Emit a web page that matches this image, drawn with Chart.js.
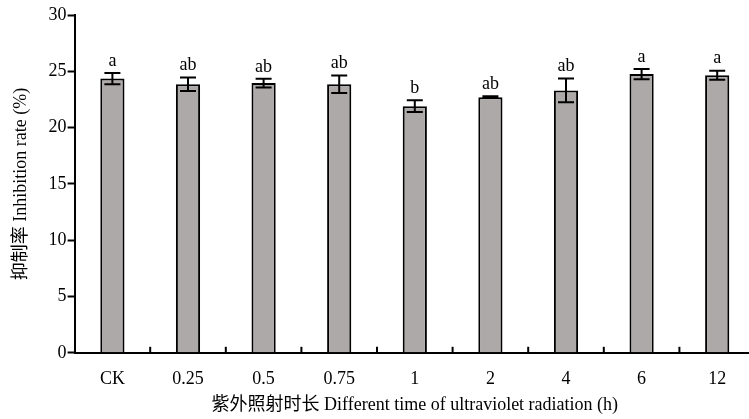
<!DOCTYPE html>
<html>
<head>
<meta charset="utf-8">
<script src="https://cdn.jsdelivr.net/npm/chart.js@4.4.0/dist/chart.umd.min.js"></script>
<style>
    html, body { margin: 0; padding: 0; background: #fff; overflow: hidden; }
    #wrap { width: 755px; height: 419px; position: relative; }
</style>
</head>
<body>
<div id="wrap"><canvas id="uvChart"></canvas></div>
<script>
const categories = ['CK', '0.25', '0.5', '0.75', '1', '2', '4', '6', '12'];
const inhibitionRate = [24.35, 23.85, 23.95, 23.85, 21.9, 22.7, 23.3, 24.75, 24.65];
const errorValues = [0.5, 0.6, 0.38, 0.78, 0.52, 0.08, 1.05, 0.45, 0.4];
const sigLetters = ['a', 'ab', 'ab', 'ab', 'b', 'ab', 'ab', 'a', 'a'];

const serif = "'Liberation Serif', 'Times New Roman', 'Noto Sans CJK SC', serif";

const errorBarPlugin = {
    id: 'errorBars',
    afterDatasetsDraw(chart) {
        const ctx = chart.ctx;
        const yScale = chart.scales.y;
        const meta = chart.getDatasetMeta(0);
        ctx.save();
        ctx.strokeStyle = '#000';
        ctx.lineWidth = 2;
        ctx.fillStyle = '#000';
        ctx.font = '18px ' + serif;
        ctx.textAlign = 'center';
        ctx.textBaseline = 'bottom';
        meta.data.forEach((bar, i) => {
            const x = bar.x;
            const top = yScale.getPixelForValue(inhibitionRate[i] + errorValues[i]);
            const bottom = yScale.getPixelForValue(inhibitionRate[i] - errorValues[i]);
            ctx.beginPath();
            ctx.moveTo(x, top);
            ctx.lineTo(x, bottom);
            ctx.moveTo(x - 8, top);
            ctx.lineTo(x + 8, top);
            ctx.moveTo(x - 8, bottom);
            ctx.lineTo(x + 8, bottom);
            ctx.stroke();
            ctx.fillText(sigLetters[i], x, top - 3);
        });
        ctx.restore();
    }
};

// x ticks sit between the categories and point up into the plot
const innerTicksPlugin = {
    id: 'innerTicks',
    afterDraw(chart) {
        const ctx = chart.ctx;
        const xScale = chart.scales.x;
        const yBottom = chart.chartArea.bottom;
        ctx.save();
        ctx.strokeStyle = '#000';
        ctx.lineWidth = 2;
        for (let i = 0; i < categories.length - 1; i++) {
            const x = (xScale.getPixelForTick(i) + xScale.getPixelForTick(i + 1)) / 2;
            ctx.beginPath();
            ctx.moveTo(x, yBottom);
            ctx.lineTo(x, yBottom - 6);
            ctx.stroke();
        }
        ctx.restore();
    }
};

new Chart(document.getElementById('uvChart'), {
    type: 'bar',
    data: {
        labels: categories,
        datasets: [{
            data: inhibitionRate,
            backgroundColor: '#ADA9A8',
            borderColor: '#000',
            borderWidth: 2,
            categoryPercentage: 0.32,
            barPercentage: 1
        }]
    },
    options: {
        responsive: true,
        maintainAspectRatio: false,
        animation: false,
        layout: { padding: { top: 15, right: 0, bottom: 3, left: 10 } },
        plugins: {
            legend: { display: false },
            tooltip: { enabled: false }
        },
        scales: {
            x: {
                grid: { display: false, drawTicks: false },
                border: { color: '#000', width: 2 },
                ticks: {
                    color: '#000',
                    padding: 16,
                    font: { family: serif, size: 18 }
                },
                title: {
                    display: true,
                    text: '紫外照射时长 Different time of ultraviolet radiation (h)',
                    color: '#000',
                    padding: { top: -12, bottom: 0 },
                    font: { family: serif, size: 18 }
                }
            },
            y: {
                min: 0,
                max: 30,
                ticks: {
                    stepSize: 5,
                    color: '#000',
                    padding: 1,
                    font: { family: serif, size: 18 }
                },
                grid: {
                    drawOnChartArea: false,
                    tickLength: 7,
                    tickWidth: 2,
                    color: '#000'
                },
                border: { color: '#000', width: 2 },
                title: {
                    display: true,
                    text: '抑制率 Inhibition rate (%)',
                    color: '#000',
                    padding: { top: 0, bottom: 16 },
                    font: { family: serif, size: 18 }
                }
            }
        }
    },
    plugins: [errorBarPlugin, innerTicksPlugin]
});
</script>
</body>
</html>
